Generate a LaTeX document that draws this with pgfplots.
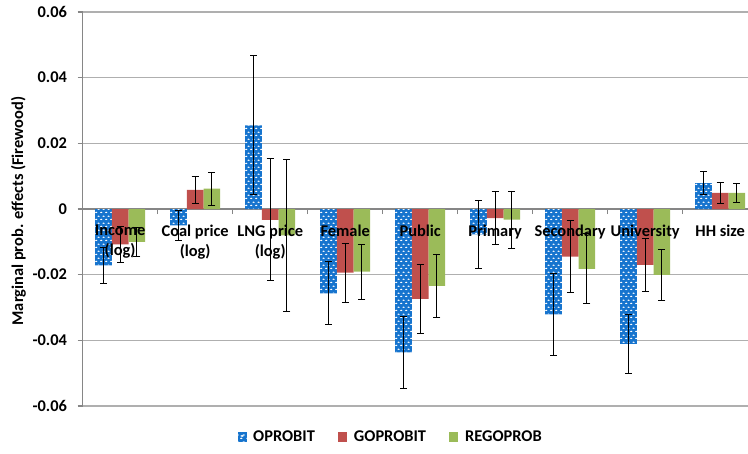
\documentclass[border=0pt]{standalone}
\usepackage{fontspec}
\setmainfont{Carlito}
\usepackage{pgfplots}
\pgfplotsset{compat=1.18}
\usetikzlibrary{patterns}
\definecolor{oblue}{RGB}{22,116,206}
\definecolor{ored}{RGB}{192,80,77}
\definecolor{ogreen}{RGB}{155,187,89}
\definecolor{gridgray}{RGB}{175,175,175}
\definecolor{axgray}{RGB}{134,134,134}
\pgfdeclarepatternformonly{wdash}{\pgfpoint{0pt}{0pt}}{\pgfpoint{4pt}{5pt}}{\pgfpoint{4pt}{5pt}}{%
  \pgfpathellipse{\pgfpoint{1pt}{1.25pt}}{\pgfpoint{1.05pt}{0pt}}{\pgfpoint{0pt}{0.55pt}}%
  \pgfpathellipse{\pgfpoint{3pt}{3.75pt}}{\pgfpoint{1.05pt}{0pt}}{\pgfpoint{0pt}{0.55pt}}%
  \pgfusepath{fill}}
\newcommand{\lblfont}{\fontsize{12.3}{15}\selectfont\bfseries}
\begin{document}
\begin{tikzpicture}
\begin{axis}[
  at={(62pt,35.25pt)}, anchor=south west,
  scale only axis, width=499pt, height=295.5pt,
  xmin=-0.5, xmax=8.371, ymin=-0.06, ymax=0.06,
  axis x line*=middle, axis y line*=left,
  axis line style={axgray, line width=0.8pt},
  xtick={-0.5,0.5,...,8.5}, xticklabels={},
  ytick={-0.06,-0.04,-0.02,0,0.02,0.04,0.06},
  yticklabels={-0.06,-0.04,-0.02,0,0.02,0.04,0.06},
  tick align=outside, major tick length=3.75pt,
  tick style={axgray, line width=0.8pt},
  ymajorgrids, grid style={gridgray, line width=0.8pt},
  yticklabel style={font=\lblfont, anchor=east, inner sep=0pt, xshift=-7.8pt},
  ylabel={Marginal prob. effects (Firewood)},
  ylabel style={font=\lblfont, at={(axis description cs:-0.0964,0.495)}, anchor=center},
  ybar=0pt, bar width=0.2227,
  clip=false,
  legend columns=3,
  legend style={draw=none, fill=none, font=\lblfont, at={(0.4634,-0.0787)}, anchor=center,
    /tikz/every even column/.append style={column sep=15.5pt},
    /tikz/every odd column/.append style={column sep=3pt}},
  error bars/y dir=both, error bars/y explicit,
  error bars/error bar style={black, line width=0.65pt},
  error bars/error mark options={black, rotate=90, mark size=2.6pt, line width=0.65pt},
]
\addplot[draw=none, fill=oblue, postaction={pattern=wdash, pattern color=white}, bar shift=-0.2227,
  legend image code/.code={\fill[oblue] (0pt,-3.4pt) rectangle (6.8pt,3.4pt);
    \fill[white] (3.4pt,0.8pt) ellipse (1.4pt and 0.7pt);}]
  coordinates {
  (0,-0.0172) +- (0,0.0055)
  (1,-0.0050) +- (0,0.0045)
  (2,0.0255) +- (0,0.0212)
  (3,-0.0257) +- (0,0.0096)
  (4,-0.0437) +- (0,0.0110)
  (5,-0.0077) +- (0,0.0104)
  (6,-0.0321) +- (0,0.0125)
  (7,-0.0411) +- (0,0.0091)
  (8,0.0079) +- (0,0.0035)
  };
\addlegendentry{OPROBIT}
\addplot[draw=none, fill=ored, bar shift=0,
  legend image code/.code={\fill[ored] (0pt,-3.4pt) rectangle (6.8pt,3.4pt);}]
  coordinates {
  (0,-0.0108) +- (0,0.0054)
  (1,0.0058) +- (0,0.0042)
  (2,-0.0033) +- (0,0.0186)
  (3,-0.0194) +- (0,0.0090)
  (4,-0.0274) +- (0,0.0104)
  (5,-0.0028) +- (0,0.0081)
  (6,-0.0145) +- (0,0.0110)
  (7,-0.0170) +- (0,0.0080)
  (8,0.0049) +- (0,0.0032)
  };
\addlegendentry{GOPROBIT}
\addplot[draw=none, fill=ogreen, bar shift=0.2227,
  legend image code/.code={\fill[ogreen] (0pt,-3.4pt) rectangle (6.8pt,3.4pt);}]
  coordinates {
  (0,-0.0100) +- (0,0.0043)
  (1,0.0062) +- (0,0.0050)
  (2,-0.0080) +- (0,0.0231)
  (3,-0.0191) +- (0,0.0084)
  (4,-0.0234) +- (0,0.0097)
  (5,-0.0032) +- (0,0.0087)
  (6,-0.0182) +- (0,0.0107)
  (7,-0.0201) +- (0,0.0078)
  (8,0.0049) +- (0,0.0030)
  };
\addlegendentry{REGOPROB}
\foreach \i/\t in {0/{Income\\(log)},1/{Coal price\\(log)},2/{LNG price\\(log)},3/Female,4/Public,5/Primary,6/Secondary,7/University,8/HH size}{
  \edef\tmp{\noexpand\node[font=\noexpand\lblfont, align=center, anchor=north, inner sep=0pt, yshift=-12pt] at (axis cs:\i,0) {\unexpanded\expandafter{\t}};}
  \tmp
}
\end{axis}
\pgfresetboundingbox
\path[use as bounding box] (0,0) rectangle (561pt,339.75pt);
\end{tikzpicture}
\end{document}
